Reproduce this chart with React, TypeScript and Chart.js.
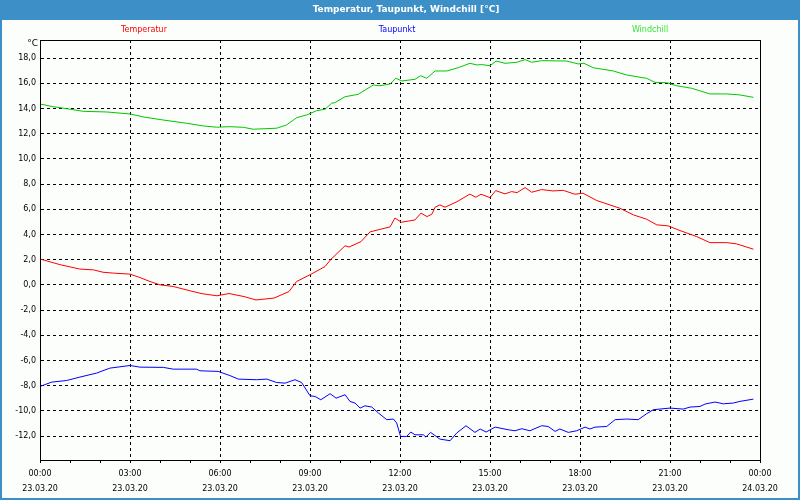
import React, { useEffect, useRef } from "react";
import { Chart, registerables } from "chart.js";

Chart.register(...registerables);

// ---------- data ----------
const chartTitle = "Temperatur, Taupunkt, Windchill [°C]";
const unitLabel = "°C";

const tempTimes = [0, 0.67, 1.33, 1.78, 2.1, 2.45, 3.0, 3.33, 3.67, 4.0, 4.44, 4.8, 5.1, 5.4, 5.9, 6.3, 6.8, 7.2, 7.8, 8.3, 8.55, 9.0, 9.5, 9.7, 10.17, 10.3, 10.7, 11.0, 11.33, 11.67, 11.83, 12.05, 12.5, 12.7, 12.9, 13.06, 13.17, 13.33, 13.5, 13.9, 14.33, 14.53, 14.7, 15.0, 15.19, 15.5, 15.72, 15.9, 16.17, 16.39, 16.72, 17.1, 17.44, 17.83, 18.1, 18.56, 19.0, 19.33, 19.78, 20.22, 20.56, 20.94, 21.33, 21.89, 22.33, 22.89, 23.22, 23.78];
const tempValues = [2.05, 1.6, 1.25, 1.19, 1.0, 0.93, 0.85, 0.58, 0.26, 0.0, -0.13, -0.35, -0.53, -0.7, -0.87, -0.69, -0.93, -1.2, -1.05, -0.53, 0.26, 0.8, 1.45, 2.03, 3.1, 3.0, 3.43, 4.2, 4.4, 4.6, 5.3, 4.97, 5.15, 5.69, 5.42, 5.6, 6.16, 6.34, 6.16, 6.6, 7.2, 6.95, 7.19, 6.92, 7.48, 7.22, 7.4, 7.32, 7.72, 7.35, 7.56, 7.45, 7.5, 7.19, 7.27, 6.69, 6.34, 6.08, 5.55, 5.21, 4.76, 4.68, 4.31, 3.83, 3.35, 3.35, 3.25, 2.83];

const dewTimes = [0, 0.39, 0.89, 1.33, 1.89, 2.33, 3.0, 3.33, 4.11, 4.44, 5.22, 5.33, 5.94, 6.33, 6.61, 7.22, 7.56, 7.89, 8.17, 8.5, 8.72, 9.0, 9.17, 9.36, 9.67, 9.87, 10.17, 10.33, 10.5, 10.67, 10.83, 11.06, 11.28, 11.56, 11.78, 11.89, 12.02, 12.22, 12.36, 12.5, 12.78, 12.86, 13.02, 13.33, 13.67, 13.89, 14.2, 14.5, 14.67, 14.87, 15.17, 15.61, 15.83, 16.06, 16.33, 16.72, 16.94, 17.17, 17.33, 17.61, 17.89, 18.17, 18.33, 18.5, 18.89, 19.17, 19.56, 19.94, 20.22, 20.44, 21.0, 21.44, 21.67, 22.0, 22.17, 22.5, 22.78, 23.11, 23.33, 23.78];
const dewValues = [-8.06, -7.72, -7.59, -7.32, -7.0, -6.61, -6.4, -6.53, -6.55, -6.69, -6.69, -6.82, -6.87, -7.2, -7.48, -7.53, -7.48, -7.75, -7.8, -7.53, -7.75, -8.8, -8.86, -9.12, -8.64, -8.99, -8.72, -9.25, -9.38, -9.78, -9.6, -9.7, -10.17, -10.7, -10.65, -10.97, -12.03, -12.03, -11.68, -11.9, -11.9, -12.08, -11.71, -12.24, -12.37, -11.76, -11.18, -11.71, -11.44, -11.68, -11.29, -11.5, -11.58, -11.42, -11.58, -11.18, -11.24, -11.63, -11.44, -11.71, -11.58, -11.29, -11.44, -11.29, -11.24, -10.7, -10.65, -10.7, -10.23, -9.91, -9.78, -9.86, -9.7, -9.65, -9.46, -9.3, -9.44, -9.38, -9.25, -9.07];

const chillTimes = [0, 0.44, 0.89, 1.44, 2.22, 3.0, 3.5, 4.11, 4.89, 5.44, 5.89, 6.33, 6.78, 7.11, 7.89, 8.22, 8.56, 8.89, 9.22, 9.5, 9.72, 9.83, 10.17, 10.61, 11.11, 11.33, 11.67, 11.86, 12.06, 12.5, 12.69, 12.89, 13.17, 13.56, 13.94, 14.33, 14.56, 14.72, 15.0, 15.2, 15.5, 15.89, 16.17, 16.39, 16.72, 17.56, 17.94, 18.13, 18.44, 19.11, 19.56, 20.22, 20.5, 20.89, 21.22, 21.72, 22.33, 22.89, 23.33, 23.78];
const chillValues = [14.35, 14.14, 13.98, 13.77, 13.72, 13.56, 13.3, 13.08, 12.82, 12.61, 12.51, 12.55, 12.5, 12.35, 12.43, 12.69, 13.27, 13.48, 13.82, 13.93, 14.41, 14.46, 14.93, 15.12, 15.86, 15.8, 15.94, 16.39, 16.18, 16.31, 16.6, 16.39, 16.97, 16.97, 17.23, 17.58, 17.45, 17.48, 17.39, 17.76, 17.58, 17.66, 17.87, 17.66, 17.79, 17.76, 17.53, 17.58, 17.23, 16.97, 16.65, 16.39, 16.07, 16.04, 15.8, 15.6, 15.15, 15.15, 15.07, 14.88];

const seriesNames = ["Temperatur", "Taupunkt", "Windchill"];

const xTickHours = [0, 3, 6, 9, 12, 15, 18, 21, 24];
const xTickTimes = ["00:00", "03:00", "06:00", "09:00", "12:00", "15:00", "18:00", "21:00", "00:00"];
const xTickDates = ["23.03.20", "23.03.20", "23.03.20", "23.03.20", "23.03.20", "23.03.20", "23.03.20", "23.03.20", "24.03.20"];
const yTickValues = [-12, -10, -8, -6, -4, -2, 0, 2, 4, 6, 8, 10, 12, 14, 16, 18];

// ---------- styles ----------
const FONT = '"DejaVu Sans", sans-serif';
const BLUE = "#3d90c7";
const BG = "#fcfefc";
const lineColors = ["#ff0000", "#0000ff", "#00c800"];
const legendColors = ["#ff0000", "#0000ff", "#33e633"];

const zip = (xs: number[], ys: number[]) => xs.map((x, i) => ({ x, y: ys[i] }));

const decorPlugin = {
  id: "decor",
  beforeDraw(chart: any) {
    const { ctx, chartArea } = chart;
    const W = chart.width;
    const H = chart.height;
    ctx.save();
    ctx.fillStyle = BG;
    ctx.fillRect(0, 0, W, H);
    ctx.fillStyle = BLUE;
    ctx.fillRect(0, 0, W, 20);
    ctx.strokeStyle = BLUE;
    ctx.lineWidth = 2;
    ctx.strokeRect(1, 1, W - 2, H - 2);
    // title
    ctx.fillStyle = "#ffffff";
    ctx.font = `bold 9px ${FONT}`;
    ctx.textAlign = "center";
    ctx.textBaseline = "middle";
    ctx.fillText(chartTitle, 406, 10);
    // legend
    const cx = (chartArea.left + chartArea.right) / 2;
    const offs = [-256, -3, 250];
    ctx.font = `8px ${FONT}`;
    seriesNames.forEach((name, i) => {
      ctx.fillStyle = legendColors[i];
      ctx.fillText(name, cx + offs[i], 30);
    });
    // unit
    ctx.fillStyle = "#000000";
    ctx.textAlign = "right";
    ctx.font = `9px ${FONT}`;
    ctx.fillText(unitLabel, chartArea.left - 2, 44);
    ctx.restore();
  },
  afterDraw(chart: any) {
    const { ctx, chartArea } = chart;
    ctx.save();
    ctx.strokeStyle = "#000000";
    ctx.lineWidth = 1;
    ctx.strokeRect(
      Math.round(chartArea.left) + 0.5,
      Math.round(chartArea.top) + 0.5,
      Math.round(chartArea.right - chartArea.left),
      Math.round(chartArea.bottom - chartArea.top)
    );
    ctx.restore();
  },
};

export default function App() {
  const ref = useRef<HTMLCanvasElement | null>(null);

  useEffect(() => {
    if (!ref.current) return;
    const datasets = [
      zip(tempTimes, tempValues),
      zip(dewTimes, dewValues),
      zip(chillTimes, chillValues),
    ].map((d, i) => ({
      label: seriesNames[i],
      data: d,
      borderColor: lineColors[i],
      backgroundColor: lineColors[i],
      borderWidth: 1,
      pointRadius: 0,
      tension: 0,
      fill: false,
    }));

    const chart = new Chart(ref.current, {
      type: "line",
      data: { datasets },
      plugins: [decorPlugin],
      options: {
        animation: false,
        responsive: false,
        maintainAspectRatio: false,
        layout: { padding: { left: 0, right: 40, top: 40, bottom: 0 } },
        plugins: {
          legend: { display: false },
          title: { display: false },
          tooltip: { enabled: false },
        },
        scales: {
          x: {
            type: "linear",
            min: 0,
            max: 24,
            afterBuildTicks(scale: any) {
              const t = [];
              for (let h = 0; h <= 24; h++) t.push({ value: h });
              scale.ticks = t;
            },
            afterFit(scale: any) {
              scale.height = 40;
            },
            grid: {
              color: (c: any) =>
                c.tick && xTickHours.includes(c.tick.value) ? "#000000" : "rgba(0,0,0,0)",
              tickColor: "#000000",
              tickLength: 3,
              drawTicks: true,
            },
            border: { display: true, color: "#000000", dash: [3, 3] },
            ticks: {
              autoSkip: false,
              maxRotation: 0,
              minRotation: 0,
              padding: 3,
              color: "#000000",
              font: { family: FONT, size: 8, lineHeight: 15 / 8 },
              callback: (v: any) => {
                const i = xTickHours.indexOf(Number(v));
                return i >= 0 ? [xTickTimes[i], xTickDates[i]] : "";
              },
            },
          },
          y: {
            type: "linear",
            min: -13.9,
            max: 19.43,
            afterBuildTicks(scale: any) {
              scale.ticks = yTickValues.map((v) => ({ value: v }));
            },
            afterFit(scale: any) {
              scale.width = 40;
            },
            grid: {
              color: "#000000",
              drawTicks: false,
            },
            border: { display: true, color: "#000000", dash: [3, 3] },
            ticks: {
              padding: 4,
              color: "#000000",
              font: { family: FONT, size: 8 },
              callback: (v: any) => Number(v).toFixed(1).replace(".", ","),
            },
          },
        },
      },
    });
    return () => chart.destroy();
  }, []);

  return (
    <div style={{ position: "fixed", left: 0, top: 0, width: 800, height: 500 }}>
      <canvas ref={ref} width={800} height={500} style={{ display: "block" }} />
    </div>
  );
}
